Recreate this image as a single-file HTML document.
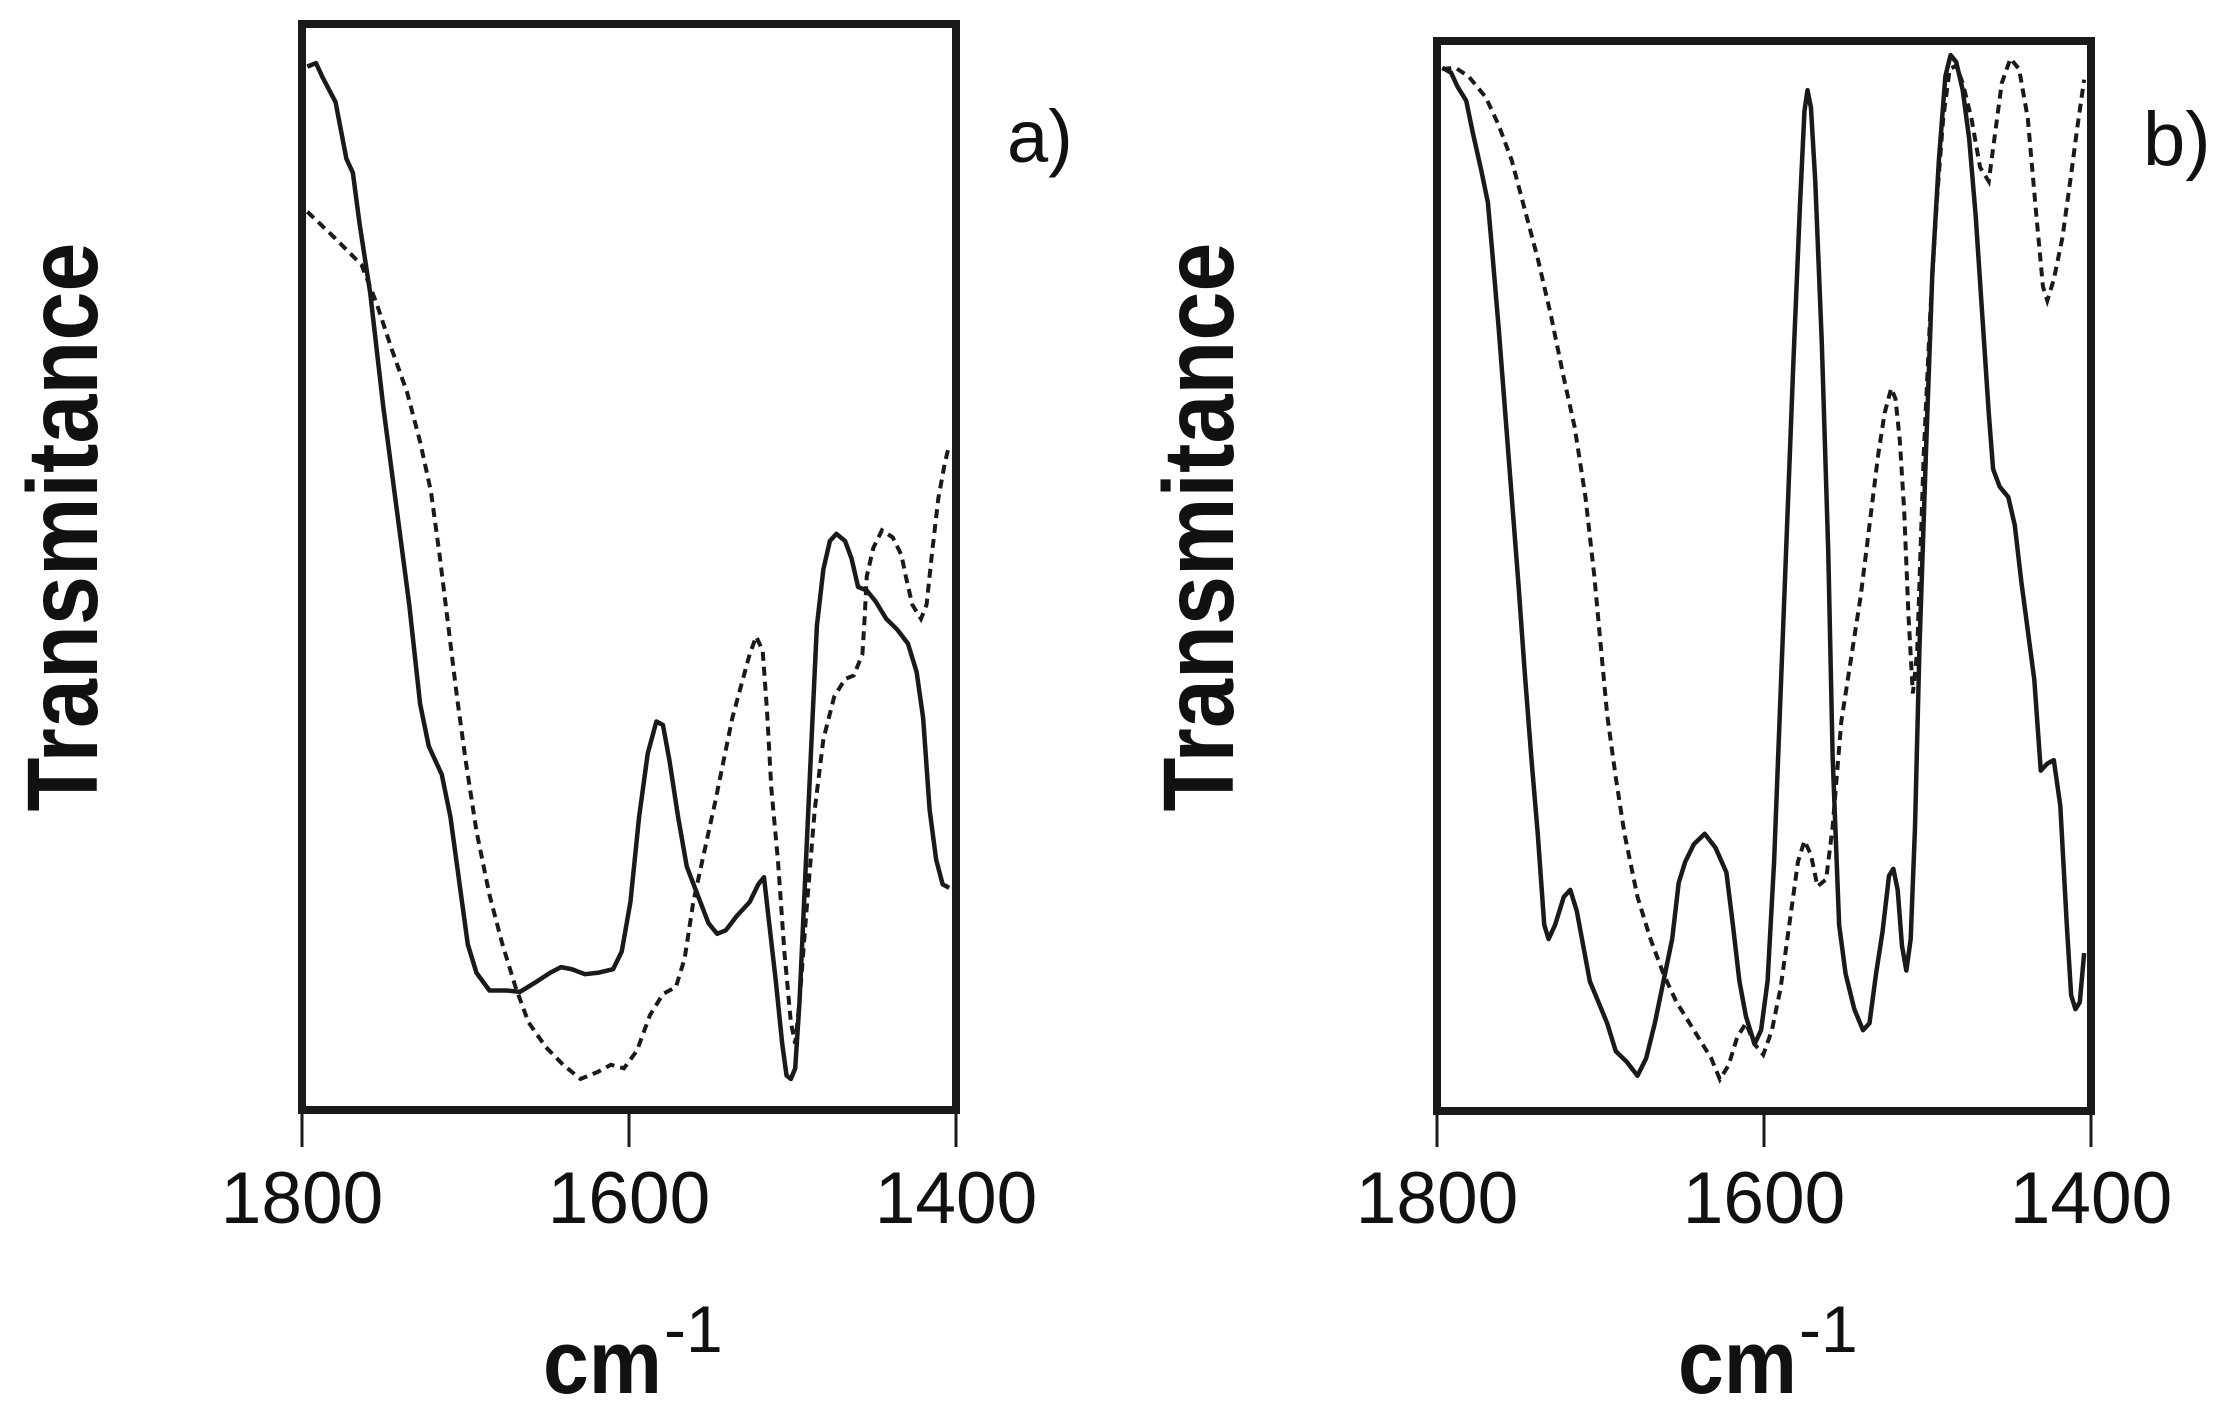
<!DOCTYPE html>
<html><head><meta charset="utf-8"><style>
html,body{margin:0;padding:0;background:#fff;}
svg{display:block;}
text{font-family:"Liberation Sans",Arial,sans-serif;fill:#111;}
</style></head><body>
<svg width="2230" height="1406" viewBox="0 0 2230 1406" xmlns="http://www.w3.org/2000/svg">
<!-- Panel a -->
<rect x="302" y="24" width="654" height="1086" fill="none" stroke="#1a1a1a" stroke-width="8"/>
<g stroke="#1a1a1a" stroke-width="3">
<line x1="302" y1="1110" x2="302" y2="1147"/><line x1="629" y1="1110" x2="629" y2="1147"/><line x1="956" y1="1110" x2="956" y2="1147"/>
</g>
<g font-size="73" text-anchor="middle">
<text x="302" y="1223">1800</text><text x="629" y="1223">1600</text><text x="956" y="1223">1400</text>
</g>
<text x="543" y="1393" font-size="90" font-weight="bold" textLength="119" lengthAdjust="spacingAndGlyphs">cm</text>
<text x="664" y="1352" font-size="66">-1</text>
<text transform="translate(97,527) rotate(-90)" font-size="100" font-weight="bold" text-anchor="middle" textLength="569" lengthAdjust="spacingAndGlyphs">Transmitance</text>
<text x="1007" y="162" font-size="74">a)</text>
<g transform="translate(290,10) scale(0.43365,0.70793)" fill="none" stroke="#1a1a1a">
<polyline vector-effect="non-scaling-stroke" stroke-width="4.5" stroke-linejoin="round" points="40,80 60,75 75,95 105,130 130,210 145,230 160,300 185,400 215,560 245,700 275,840 300,980 320,1040 350,1080 370,1140 390,1230 410,1320 430,1360 460,1385 500,1385 530,1387 570,1372 600,1360 625,1352 650,1355 680,1362 710,1360 745,1355 765,1330 785,1260 805,1140 825,1050 845,1005 860,1010 875,1060 895,1140 915,1210 940,1250 965,1290 985,1305 1005,1300 1030,1280 1060,1260 1080,1235 1093,1225 1105,1290 1120,1370 1135,1460 1145,1505 1155,1510 1165,1495 1175,1400 1190,1200 1205,1000 1215,870 1230,790 1245,750 1260,740 1280,750 1295,775 1310,815 1330,820 1350,835 1375,860 1400,875 1425,895 1445,935 1460,1000 1475,1130 1490,1200 1505,1235 1520,1240"/>
<polyline vector-effect="non-scaling-stroke" stroke-width="4" stroke-dasharray="9 6" points="40,285 100,320 165,360 200,415 235,480 270,540 300,610 325,680 345,770 365,870 385,970 405,1060 430,1160 460,1250 490,1320 520,1380 550,1430 590,1465 630,1490 670,1510 710,1500 740,1490 770,1495 800,1470 830,1420 860,1390 890,1380 910,1340 930,1260 955,1190 980,1120 1000,1060 1020,1000 1040,955 1060,910 1075,885 1090,905 1100,990 1110,1100 1125,1200 1140,1330 1155,1430 1165,1460 1175,1400 1190,1280 1210,1130 1230,1030 1255,970 1280,945 1300,940 1320,910 1325,860 1330,800 1345,760 1365,735 1390,745 1410,770 1420,800 1435,840 1455,860 1468,840 1480,770 1495,690 1510,640 1520,615"/>
</g>
<!-- Panel b -->
<rect x="1437" y="41" width="654" height="1070" fill="none" stroke="#1a1a1a" stroke-width="8"/>
<g stroke="#1a1a1a" stroke-width="3">
<line x1="1437" y1="1111" x2="1437" y2="1147"/><line x1="1764" y1="1111" x2="1764" y2="1147"/><line x1="2091" y1="1111" x2="2091" y2="1147"/>
</g>
<g font-size="73" text-anchor="middle">
<text x="1437" y="1223">1800</text><text x="1764" y="1223">1600</text><text x="2091" y="1223">1400</text>
</g>
<text x="1678" y="1393" font-size="90" font-weight="bold" textLength="119" lengthAdjust="spacingAndGlyphs">cm</text>
<text x="1799" y="1352" font-size="66">-1</text>
<text transform="translate(1233,527) rotate(-90)" font-size="100" font-weight="bold" text-anchor="middle" textLength="569" lengthAdjust="spacingAndGlyphs">Transmitance</text>
<text x="2143" y="165" font-size="76">b)</text>
<g transform="translate(1425,20) scale(0.43365,0.70153)" fill="none" stroke="#1a1a1a">
<polyline vector-effect="non-scaling-stroke" stroke-width="4.5" stroke-linejoin="round" points="40,68 60,75 75,95 95,115 110,160 130,215 145,260 155,330 170,440 185,560 200,680 215,800 230,930 245,1050 260,1160 275,1290 285,1310 300,1290 320,1250 335,1240 350,1270 365,1320 380,1370 400,1400 420,1430 440,1470 465,1485 490,1505 510,1480 530,1430 550,1370 570,1310 585,1230 600,1200 620,1175 645,1160 670,1180 695,1215 710,1290 725,1370 740,1420 760,1460 775,1440 790,1370 805,1200 820,960 835,720 850,480 865,260 875,130 882,100 890,125 900,230 915,460 930,760 940,1050 955,1290 970,1360 990,1410 1010,1440 1025,1430 1040,1360 1055,1300 1070,1220 1080,1210 1090,1240 1100,1320 1110,1355 1120,1310 1130,1150 1140,900 1155,620 1170,360 1185,200 1200,80 1212,50 1225,60 1240,100 1255,170 1270,280 1285,420 1300,560 1310,640 1325,665 1345,680 1360,720 1375,800 1390,870 1405,940 1420,1070 1435,1060 1450,1055 1465,1120 1480,1290 1490,1390 1500,1410 1510,1400 1520,1330"/>
<polyline vector-effect="non-scaling-stroke" stroke-width="4" stroke-dasharray="9 6" points="40,70 70,68 100,80 140,110 170,150 200,200 230,270 260,340 290,420 320,510 345,580 370,680 390,790 405,890 420,990 440,1080 460,1160 490,1250 520,1310 550,1360 580,1400 620,1440 660,1480 680,1510 700,1490 720,1450 740,1430 760,1460 780,1475 800,1440 820,1380 840,1290 860,1200 875,1170 890,1190 905,1235 925,1225 940,1150 960,1000 985,900 1005,820 1025,720 1045,620 1060,560 1075,525 1085,540 1095,600 1105,700 1115,850 1125,960 1135,900 1150,620 1165,420 1180,260 1195,140 1210,70 1225,65 1240,90 1260,140 1280,210 1300,230 1315,160 1330,90 1350,55 1370,70 1390,140 1410,280 1425,380 1435,400 1450,370 1470,310 1490,220 1505,150 1520,85"/>
</g>
</svg>
</body></html>
